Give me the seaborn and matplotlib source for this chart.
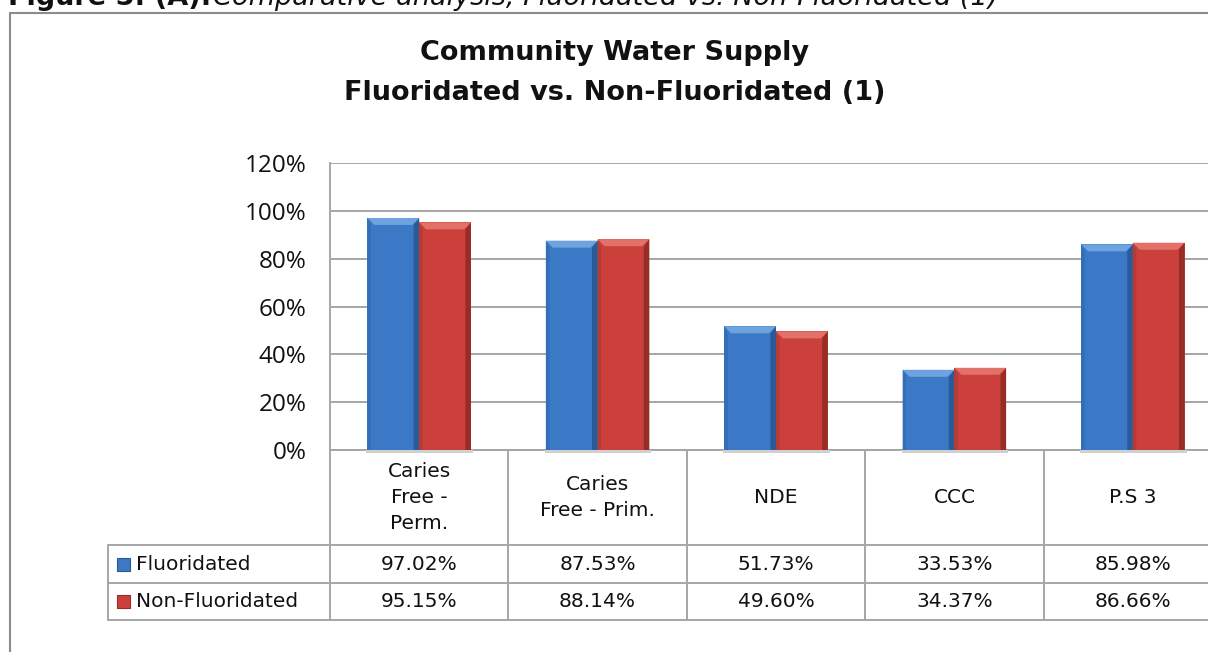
import numpy as np
import pandas as pd
import matplotlib
matplotlib.use("Agg")
import matplotlib.pyplot as plt
import matplotlib.transforms as mtransforms
from matplotlib.patches import Polygon, Rectangle
import seaborn as sns

# ---- data -------------------------------------------------------------
categories = ["Caries\nFree -\nPerm.", "Caries\nFree - Prim.", "NDE", "CCC", "P.S 3"]
series_names = ["Fluoridated", "Non-Fluoridated"]
fluoridated = [97.02, 87.53, 51.73, 33.53, 85.98]
non_fluoridated = [95.15, 88.14, 49.60, 34.37, 86.66]
y_ticks = [0, 20, 40, 60, 80, 100, 120]

title_lines = ["Community Water Supply", "Fluoridated vs. Non-Fluoridated (1)"]
caption_bold = "Figure 5: (A):"
caption_italic = "Comparative analysis, Fluoridated vs. Non-Fluoridated (1)"

df = pd.DataFrame({
    "category": categories * 2,
    "series": [series_names[0]] * len(categories) + [series_names[1]] * len(categories),
    "value": [v / 100 for v in fluoridated + non_fluoridated],
})

# ---- style --------------------------------------------------------------
sns.set_theme(style="white")
plt.rcParams["font.family"] = ["Open Sans", "DejaVu Sans"]

GRID = "#a6a6a6"
TEXT = "#111111"
TABLE_FONT = ["DejaVu Sans"]
face = {"Fluoridated": "#3b79c6", "Non-Fluoridated": "#cb403b"}
light = {"Fluoridated": "#6ea3df", "Non-Fluoridated": "#e2716a"}
dark_l = {"Fluoridated": "#336eb6", "Non-Fluoridated": "#b93a34"}
dark_r = {"Fluoridated": "#2a5a98", "Non-Fluoridated": "#982c27"}

W, H = 1208, 652
fig = plt.figure(figsize=(W / 100, H / 100), dpi=100)
fig.patch.set_facecolor("white")

# plot area (pixels -> figure fractions)
px_l, px_r, px_t, px_b = 330, 1222, 163, 450
ax = fig.add_axes([px_l / W, 1 - px_b / H, (px_r - px_l) / W, (px_b - px_t) / H])

sns.barplot(data=df, x="category", y="value", hue="series", order=categories,
            hue_order=series_names, palette=face, width=0.58, dodge=True,
            saturation=1, edgecolor="none", linewidth=0, legend=False, ax=ax,
            zorder=3)

ax.set_xlim(-0.5, len(categories) - 0.5)
ax.set_ylim(0, 1.2)
ax.set_yticks([t / 100 for t in y_ticks])
ax.set_yticklabels([f"{t}%" for t in y_ticks], fontsize=17.5, color=TEXT)
ax.tick_params(axis="y", length=0, pad=17)
ax.set_xticks([])
ax.set_xlabel("")
ax.set_ylabel("")
ax.yaxis.grid(True, color=GRID, linewidth=1.4, zorder=0)
ax.set_axisbelow(True)
for s in ["top", "right", "bottom"]:
    ax.spines[s].set_visible(False)
ax.spines["left"].set_color(GRID)
ax.spines["left"].set_linewidth(1.4)

# ---- bevelled bar faces --------------------------------------------------
fig.canvas.draw()
inv = ax.transData.inverted()
bev = 7.0  # bevel size in pixels
bars = [p for p in ax.patches if isinstance(p, Rectangle) and p.get_height() > 0]
for i, p in enumerate(bars):
    name = series_names[0] if i < len(categories) else series_names[1]
    bb = p.get_window_extent()
    x0, x1, y0, y1 = bb.x0, bb.x1, bb.y0, bb.y1

    def to_data(pts):
        return inv.transform(np.array(pts))

    top = to_data([(x0, y1), (x1, y1), (x1 - bev, y1 - bev), (x0 + bev, y1 - bev)])
    left = to_data([(x0, y0), (x0, y1), (x0 + bev * 0.5, y1 - bev), (x0 + bev * 0.5, y0)])
    right = to_data([(x1, y0), (x1, y1), (x1 - bev * 0.8, y1 - bev), (x1 - bev * 0.8, y0)])
    ax.add_patch(Polygon(right, closed=True, facecolor=dark_r[name], edgecolor="none", zorder=4))
    ax.add_patch(Polygon(left, closed=True, facecolor=dark_l[name], edgecolor="none", zorder=4))
    ax.add_patch(Polygon(top, closed=True, facecolor=light[name], edgecolor="none", zorder=5))
    # soft shadow along the base
    sh = to_data([(x0 - 1, y0 - 3), (x1 + 2, y0 - 3), (x1 + 2, y0), (x0 - 1, y0)])
    ax.add_patch(Polygon(sh, closed=True, facecolor="#d0d0d0", edgecolor="none",
                         zorder=2, clip_on=False))

# ---- data table beneath the axis ---------------------------------------
blend = mtransforms.blended_transform_factory(ax.transData, ax.transAxes)
n = len(categories)
ax_h = px_b - px_t
ax_w = px_r - px_l
row_y = [-(545 - px_b) / ax_h, -(583 - px_b) / ax_h, -(620 - px_b) / ax_h]
legend_left = -0.5 + (108 - px_l) / ax_w * n

line_kw = dict(color=GRID, linewidth=1.4, clip_on=False, transform=blend, zorder=1)
ax.plot([-0.5, n - 0.5], [0, 0], **line_kw)
for yy in row_y:
    ax.plot([legend_left, n - 0.5], [yy, yy], **line_kw)
ax.plot([legend_left, legend_left], [row_y[0], row_y[2]], **line_kw)
for k in range(n + 1):
    ax.plot([k - 0.5, k - 0.5], [0, row_y[2]], **line_kw)

hdr_y = row_y[0] / 2
for k, cat in enumerate(categories):
    ax.text(k, hdr_y, cat, transform=blend, ha="center", va="center",
            fontsize=14.5, color=TEXT, linespacing=1.45, family=TABLE_FONT)

rows = [fluoridated, non_fluoridated]
for r, (name, vals) in enumerate(zip(series_names, rows)):
    yc = (row_y[r] + row_y[r + 1]) / 2
    for k, v in enumerate(vals):
        ax.text(k, yc, f"{v:.2f}%", transform=blend, ha="center", va="center",
                fontsize=14.5, color=TEXT, family=TABLE_FONT)
    sq_x = legend_left + 9 / ax_w * n
    sq_w = 13 / ax_w * n
    sq_h = 13 / ax_h
    ax.add_patch(Rectangle((sq_x, yc - sq_h / 2), sq_w, sq_h, transform=blend,
                           facecolor=face[name], edgecolor=dark_r[name], linewidth=0.8,
                           clip_on=False))
    ax.text(legend_left + 28 / ax_w * n, yc, name, transform=blend, ha="left",
            va="center", fontsize=14.5, color=TEXT, family=TABLE_FONT)

# ---- titles, frame, caption ---------------------------------------------
fig.text(615 / W, 1 - 53 / H, title_lines[0], ha="center", va="center", fontsize=19.5,
         fontweight="bold", color=TEXT, family=["DejaVu Sans"])
fig.text(615 / W, 1 - 93 / H, title_lines[1], ha="center", va="center", fontsize=19.5,
         fontweight="bold", color=TEXT, family=["DejaVu Sans"])

frame_kw = dict(color="#8c8c8c", linewidth=1.5, transform=fig.transFigure)
fig.add_artist(plt.Line2D([10 / W, 10 / W], [0, 1 - 13 / H], **frame_kw))
fig.add_artist(plt.Line2D([10 / W, 1], [1 - 13 / H, 1 - 13 / H], **frame_kw))

cap1 = fig.text(8 / W, 1 - 5 / H, caption_bold, ha="left", va="baseline",
                fontsize=19.5, fontweight="bold", color=TEXT, family=["DejaVu Sans"])
fig.canvas.draw()
bb = cap1.get_window_extent()
fig.text((bb.x1 + 2) / W, 1 - 5 / H, caption_italic, ha="left", va="baseline",
         fontsize=19.5, style="italic", color=TEXT, family=["DejaVu Sans"])

fig.savefig("out.png", dpi=100, facecolor="white")
